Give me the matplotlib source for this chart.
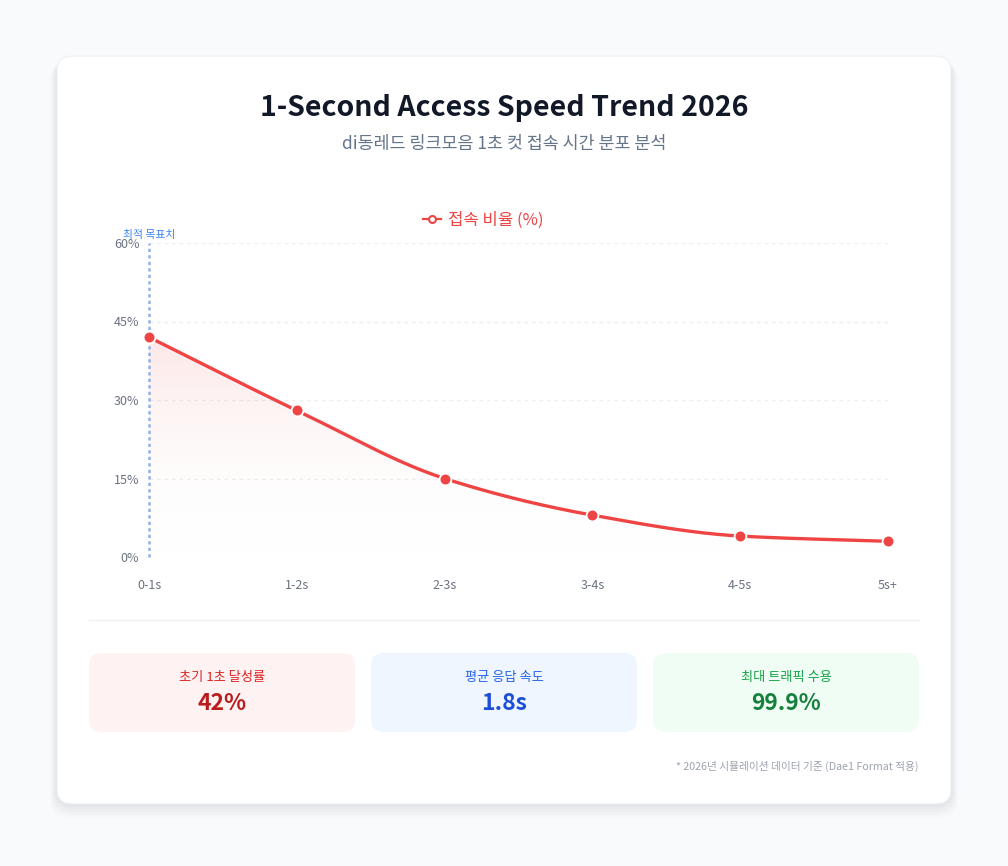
import numpy as np
import matplotlib
matplotlib.use("Agg")
import matplotlib.pyplot as plt
from matplotlib.patches import FancyBboxPatch, Polygon
from matplotlib.lines import Line2D

plt.rcParams['font.family'] = ['Noto Sans CJK KR', 'DejaVu Sans']

categories = ["0-1s", "1-2s", "2-3s", "3-4s", "4-5s", "5s+"]
values = [42, 28, 15, 8, 4, 3]
yticks = [0, 15, 30, 45, 60]
series_name = "접속 비율 (%)"
title = "1-Second Access Speed Trend 2026"
subtitle = "di동레드 링크모음 1초 컷 접속 시간 분포 분석"
target_label = "최적 목표치"
card_labels = ["초기 1초 달성률", "평균 응답 속도", "최대 트래픽 수용"]
card_values = ["42%", "1.8s", "99.9%"]
footnote = "* 2026년 시뮬레이션 데이터 기준 (Dae1 Format 적용)"

W, H = 1008, 866
fig = plt.figure(figsize=(W/100, H/100), dpi=100)
fig.patch.set_facecolor("#f8fafc")

def fx(x): return x / W
def fy(y): return 1 - y / H

# card shadow + card
for i, a in enumerate([0.012, 0.015, 0.02, 0.025, 0.03]):
    g = 14 - i * 3
    fig.patches.append(FancyBboxPatch((fx(57 - g*0.5), fy(804 + g)), fx(894 + g), (804 - 56 + g*0.5) / H,
                                      boxstyle="round,pad=0,rounding_size=0.02", transform=fig.transFigure,
                                      facecolor="#0f172a", edgecolor="none", alpha=a, zorder=0))
fig.patches.append(FancyBboxPatch((fx(57), fy(804)), fx(894), (804 - 56) / H,
                                  boxstyle="round,pad=0,rounding_size=0.016", transform=fig.transFigure,
                                  facecolor="white", edgecolor="#eef0f3", lw=0.8, zorder=1))

fig.text(fx(504), fy(108), title, ha="center", va="center", fontsize=20.5, fontweight="bold", color="#111827")
fig.text(fx(504), fy(144), subtitle, ha="center", va="center", fontsize=12.5, color="#64748b")

# axes
ax = fig.add_axes([fx(149), fy(557), fx(888 - 149), (557 - 243) / H])
ax.set_facecolor("none")
ax.set_zorder(3)
x = np.arange(len(values))
y = np.array(values, dtype=float)
ax.set_xlim(0, len(values) - 1)
ax.set_ylim(0, 60)

# monotone cubic (PCHIP-like) smoothing
def pchip(xk, yk, n=60):
    h = np.diff(xk); d = np.diff(yk) / h
    m = np.zeros_like(yk)
    for k in range(1, len(xk) - 1):
        if d[k-1] * d[k] > 0:
            w1 = 2*h[k] + h[k-1]; w2 = h[k] + 2*h[k-1]
            m[k] = (w1 + w2) / (w1/d[k-1] + w2/d[k])
    m[0] = d[0]; m[-1] = d[-1]
    xs, ys = [], []
    for k in range(len(xk) - 1):
        t = np.linspace(0, 1, n, endpoint=(k == len(xk) - 2))
        h00 = 2*t**3 - 3*t**2 + 1; h10 = t**3 - 2*t**2 + t
        h01 = -2*t**3 + 3*t**2; h11 = t**3 - t**2
        xs.append(xk[k] + t*h[k])
        ys.append(h00*yk[k] + h10*h[k]*m[k] + h01*yk[k+1] + h11*h[k]*m[k+1])
    return np.concatenate(xs), np.concatenate(ys)

xs, ys = pchip(x.astype(float), y)

for t in yticks:
    ax.axhline(t, color="#eceef1", lw=0.9, ls=(0, (3, 3)), zorder=1)

# gradient fill
grad = np.linspace(0, 1, 256).reshape(-1, 1)
cmap = matplotlib.colors.LinearSegmentedColormap.from_list("g", [(1, 1, 1, 0), (0.94, 0.27, 0.27, 0.13)])
im = ax.imshow(grad, extent=[0, len(values) - 1, 0, max(values)], origin="lower", aspect="auto", cmap=cmap, zorder=1)
poly = Polygon(np.column_stack([np.r_[xs, xs[-1], xs[0]], np.r_[ys, 0, 0]]), closed=True, transform=ax.transData,
               facecolor="none", edgecolor="none")
ax.add_patch(poly)
im.set_clip_path(poly)

ax.axvline(0, color="#8fb0ea", lw=1.8, ls=(0, (1.3, 1.3)), zorder=2, clip_on=False)
ax.plot(xs, ys, color="#ef4444", lw=2.4, zorder=4, clip_on=False, solid_capstyle="round")
ax.plot(x, y, "o", ms=8.5, color="#ef4444", mec="white", mew=1.3, zorder=5, clip_on=False)

ax.set_ylim(0, 60)
ax.set_xlim(0, len(values) - 1)
ax.set_yticks(yticks)
ax.set_yticklabels([f"{t}%" for t in yticks])
ax.set_xticks(x)
ax.set_xticklabels(categories)
ax.tick_params(length=0, labelsize=9, colors="#6b7280")
ax.tick_params(axis="y", pad=7)
ax.tick_params(axis="x", pad=16)
for s in ax.spines.values():
    s.set_visible(False)

fig.text(fx(149), fy(235), target_label, ha="center", va="center", fontsize=7.8, color="#3b82f6", zorder=6)

# legend
lg = ax.legend([Line2D([0], [0], color="#ef4444", lw=1.6, marker="o", ms=5, mfc="white", mec="#ef4444", mew=1.5)],
               [series_name], loc="center", bbox_to_anchor=(fx(483), fy(220)), bbox_transform=fig.transFigure,
               frameon=False, fontsize=12, labelcolor="#ef4444", handlelength=1.1, handletextpad=0.4)

# separator
fig.add_artist(Line2D([fx(89), fx(919)], [fy(620), fy(620)], color="#eef0f3", lw=1, transform=fig.transFigure))

# KPI cards
bgs = ["#fef2f2", "#eff6ff", "#f0fdf4"]
lab_c = ["#dc2626", "#2563eb", "#16a34a"]
val_c = ["#b91c1c", "#1d4ed8", "#15803d"]
lefts = [89, 371, 653]
for i in range(3):
    l = lefts[i]
    fig.patches.append(FancyBboxPatch((fx(l), fy(732)), fx(266), (732 - 653) / H,
                                      boxstyle="round,pad=0,rounding_size=0.014", transform=fig.transFigure,
                                      facecolor=bgs[i], edgecolor="none", zorder=2))
    fig.text(fx(l + 133), fy(677), card_labels[i], ha="center", va="center", fontsize=9.5, color=lab_c[i], fontweight="medium")
    fig.text(fx(l + 133), fy(703), card_values[i], ha="center", va="center", fontsize=16.5, color=val_c[i], fontweight="bold")

fig.text(fx(919), fy(766), footnote, ha="right", va="center", fontsize=7.7, color="#9ca3af")

fig.savefig("out.png", dpi=100, facecolor=fig.get_facecolor())
